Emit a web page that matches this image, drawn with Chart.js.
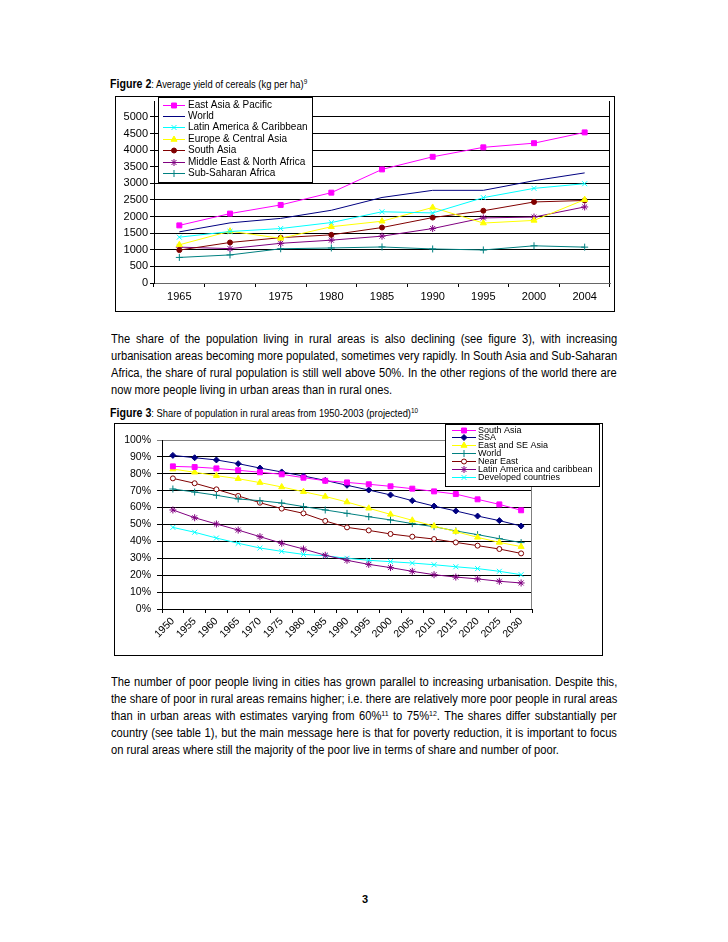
<!DOCTYPE html>
<html lang="en">
<head>
<meta charset="UTF-8" />
<title>Cereal yields and rural population share</title>
<script src="https://cdn.jsdelivr.net/npm/chart.js"></script>
<style>
  body {
    margin: 0;
    background: #fff;
    width: 728px;
    height: 942px;
    position: relative;
    overflow: hidden;
    font-family: "Liberation Sans", Arial, sans-serif;
    color: #000;
  }
  .cap { position: absolute; left: 110px; font-size: 11px; line-height: 14px; white-space: nowrap; transform-origin: left top; }
  .cap b { font-size: 12.5px; }
  sup { font-size: 7.5px; vertical-align: 4px; line-height: 0; }
  .box { position: absolute; border: 1px solid #000; box-sizing: border-box; pointer-events: none; }
  canvas { position: absolute; }
  .txt { position: absolute; left: 111px; font-size: 12px; line-height: 17px; transform-origin: left top; }
  .txt span { display: block; white-space: nowrap; }
  .pg { position: absolute; left: 362px; top: 893px; font: bold 11px Arial, sans-serif; }
</style>
</head>
<body>

<div class="cap" id="cap2" style="top:77px"><b>Figure 2</b>: Average yield of cereals (kg per ha)<sup>9</sup></div>
<canvas id="yieldChart" width="500" height="216" style="left:115px; top:96px"></canvas>
<div class="box" style="left:115px; top:96px; width:500px; height:216px"></div>

<div class="txt" style="top:331px">
  <span class="j">The share of the population living in rural areas is also declining (see figure 3), with increasing</span>
  <span class="j">urbanisation areas becoming more populated, sometimes very rapidly. In South Asia and Sub-Saharan</span>
  <span class="j">Africa, the share of rural population is still well above 50%. In the other regions of the world there are</span>
  <span>now more people living in urban areas than in rural ones.</span>
</div>

<div class="cap" id="cap3" style="top:406px"><b>Figure 3</b>: Share of population in rural areas from 1950-2003 (projected)<sup>10</sup></div>
<canvas id="ruralChart" width="489" height="233" style="left:114px; top:423px"></canvas>
<div class="box" style="left:114px; top:423px; width:489px; height:233px"></div>

<div class="txt" style="top:674px">
  <span class="j">The number of poor people living in cities has grown parallel to increasing urbanisation. Despite this,</span>
  <span class="j">the share of poor in rural areas remains higher; i.e. there are relatively more poor people in rural areas</span>
  <span class="j">than in urban areas with estimates varying from 60%<sup>11</sup> to 75%<sup>12</sup>. The shares differ substantially per</span>
  <span class="j">country (see table 1), but the main message here is that for poverty reduction, it is important to focus</span>
  <span>on rural areas where still the majority of the poor live in terms of share and number of poor.</span>
</div>

<div class="pg">3</div>

<script>
  // Figure 2 - cereal yield, kg per ha
  const years2 = ['1965', '1970', '1975', '1980', '1985', '1990', '1995', '2000', '2004'];
  const yieldTicks = [0, 500, 1000, 1500, 2000, 2500, 3000, 3500, 4000, 4500, 5000];
  const eastAsiaPacific = [1735, 2090, 2350, 2720, 3420, 3800, 4085, 4210, 4535];
  const world = [1540, 1810, 1945, 2190, 2575, 2790, 2790, 3080, 3315];
  const latinAmerica = [1380, 1550, 1640, 1820, 2145, 2110, 2570, 2850, 2990];
  const europeCentralAsia = [1150, 1560, 1345, 1695, 1860, 2275, 1805, 1885, 2510];
  const southAsia = [990, 1220, 1365, 1450, 1670, 1970, 2175, 2440, 2485];
  const middleEast = [1080, 1035, 1195, 1290, 1410, 1640, 1960, 1985, 2290];
  const subSaharan = [770, 845, 1030, 1055, 1085, 1025, 995, 1120, 1080];

  // Figure 3 - rural share of population, %
  const years3 = ['1950', '1955', '1960', '1965', '1970', '1975', '1980', '1985', '1990',
                  '1995', '2000', '2005', '2010', '2015', '2020', '2025', '2030'];
  const ruralTicks = [0, 10, 20, 30, 40, 50, 60, 70, 80, 90, 100];
  const southAsiaRural = [84.4, 84.0, 83.2, 82.1, 80.9, 79.7, 77.7, 75.9, 74.9, 73.8, 72.6, 71.2, 69.6, 68.0, 64.9, 61.9, 58.4];
  const ssaRural = [90.9, 89.5, 88.2, 86.0, 83.4, 81.1, 78.7, 76.1, 73.2, 70.4, 67.5, 64.1, 60.9, 58.0, 55.0, 52.3, 49.1];
  const eastSEAsiaRural = [82.8, 80.9, 78.9, 77.1, 74.8, 72.2, 69.4, 66.6, 63.3, 59.6, 56.0, 52.5, 49.1, 45.8, 42.4, 39.4, 36.9];
  const worldRural = [71.0, 69.2, 67.3, 65.1, 64.1, 62.7, 60.6, 58.6, 56.6, 54.6, 52.7, 50.5, 48.7, 46.2, 44.0, 41.6, 39.3];
  const nearEastRural = [77.3, 74.4, 70.8, 66.9, 62.9, 59.4, 56.6, 52.1, 48.3, 46.5, 44.4, 42.8, 41.4, 39.4, 37.5, 35.5, 32.9];
  const latinAmericaRural = [58.6, 54.0, 50.3, 46.7, 42.8, 38.9, 35.5, 31.8, 28.8, 26.4, 24.5, 22.3, 20.3, 18.9, 17.8, 16.4, 15.4];
  const developedRural = [48.3, 45.4, 42.0, 38.9, 36.1, 34.1, 32.3, 31.5, 30.0, 28.8, 28.0, 27.2, 26.2, 25.0, 23.9, 22.3, 20.3];

  // the original uses a condensed face: squeeze Arial horizontally so the
  // widest line fits 506px, then justify each full line
  const TEXT_W = 506;
  const spans = [...document.querySelectorAll('.txt span.j')];
  spans.forEach(s => { s.style.display = 'inline-block'; });
  const widest = Math.max(...spans.map(s => s.offsetWidth));
  const squeeze = TEXT_W / widest;
  const inner = TEXT_W / squeeze;
  spans.forEach(s => {
    const w = s.offsetWidth;
    const gaps = (s.textContent.match(/ /g) || []).length;
    s.style.wordSpacing = ((inner - w) / gaps) + 'px';
    s.style.display = 'block';
  });
  document.querySelectorAll('.txt').forEach(t => {
    t.style.width = inner + 'px';
    t.style.transform = 'scaleX(' + squeeze + ')';
  });

  // captions: figure 3 caption is ~308px wide in the original
  const capSqueeze = 308 / document.getElementById('cap3').offsetWidth;
  document.querySelectorAll('.cap').forEach(c => { c.style.transform = 'scaleX(' + capSqueeze + ')'; });

  const line = (label, data, color, style, radius, fill) => ({
    label, data,
    borderColor: color,
    backgroundColor: color,
    pointBackgroundColor: fill || color,
    pointBorderColor: color,
    pointStyle: style,
    pointRadius: radius,
    pointBorderWidth: 1,
    borderWidth: 1,
    tension: 0
  });

  // excel-like legend box drawn on top of the plot
  const boxLegend = {
    id: 'boxLegend',
    afterDraw(chart, args, o) {
      const ctx = chart.ctx;
      ctx.save();
      ctx.fillStyle = '#fff';
      ctx.fillRect(o.x, o.y, o.w, o.h);
      ctx.strokeStyle = '#000';
      ctx.lineWidth = 1;
      ctx.strokeRect(o.x + 0.5, o.y + 0.5, o.w, o.h);
      ctx.font = o.font;
      ctx.textBaseline = 'middle';
      chart.data.datasets.forEach((ds, i) => {
        const y = Math.round(o.y + o.first + i * o.step) + 0.5;
        ctx.strokeStyle = ds.borderColor;
        ctx.beginPath();
        ctx.moveTo(o.x1, y);
        ctx.lineTo(o.x2, y);
        ctx.stroke();
        if (ds.pointRadius) {
          ctx.fillStyle = ds.pointBackgroundColor;
          ctx.strokeStyle = ds.borderColor;
          ctx.lineWidth = 1;
          Chart.helpers.drawPoint(ctx, { pointStyle: ds.pointStyle, radius: ds.pointRadius, borderWidth: 1, rotation: 0 }, (o.x1 + o.x2) / 2, y);
        }
        ctx.fillStyle = '#000';
        ctx.fillText(ds.label, o.tx, y);
      });
      ctx.restore();
    }
  };

  // right edge of the plot area
  const frame = {
    id: 'frame',
    beforeDatasetsDraw(chart, args, o) {
      const a = chart.chartArea, ctx = chart.ctx;
      ctx.save();
      ctx.strokeStyle = o.color;
      ctx.lineWidth = 1;
      ctx.beginPath();
      ctx.moveTo(Math.round(a.right) - 0.5, a.top);
      ctx.lineTo(Math.round(a.right) - 0.5, a.bottom);
      ctx.stroke();
      ctx.restore();
    }
  };

  const fontFamily = '"Liberation Sans", Arial, sans-serif';

  new Chart(document.getElementById('yieldChart'), {
    type: 'line',
    data: {
      labels: years2,
      datasets: [
        line('East Asia & Pacific', eastAsiaPacific, '#FF00FF', 'rect', 3.5),
        line('World', world, '#000080', 'circle', 0),
        line('Latin America & Caribbean', latinAmerica, '#00FFFF', 'crossRot', 3.5),
        line('Europe & Central Asia', europeCentralAsia, '#FFFF00', 'triangle', 3.5),
        line('South Asia', southAsia, '#800000', 'circle', 2.5),
        line('Middle East & North Africa', middleEast, '#800080', 'star', 3.5),
        line('Sub-Saharan Africa', subSaharan, '#008080', 'cross', 3.5)
      ]
    },
    options: {
      responsive: false,
      animation: false,
      layout: { padding: { left: 0, right: 5, top: 0, bottom: 0 } },
      plugins: {
        legend: { display: false },
        tooltip: { enabled: false },
        frame: { color: '#000' },
        boxLegend: { x: 43, y: 1, w: 154, h: 85, first: 7.5, step: 11.4, x1: 48, x2: 70, tx: 73,
                     font: '10px ' + fontFamily }
      },
      scales: {
        x: {
          offset: true,
          grid: { offset: true, drawOnChartArea: false, color: '#000', tickLength: 4 },
          border: { color: '#666' },
          ticks: { color: '#000', font: { family: fontFamily, size: 11 }, padding: 3, maxRotation: 0 },
          afterFit: s => { s.height = 29; s.paddingLeft = 0; s.paddingRight = 0; }
        },
        y: {
          min: 0,
          max: 5480,
          ticks: { color: '#000', font: { family: fontFamily, size: 11 }, padding: 2, callback: v => String(v) },
          grid: { color: '#000', tickLength: 4 },
          border: { color: '#000' },
          afterBuildTicks: s => { s.ticks = yieldTicks.map(v => ({ value: v })); },
          afterFit: s => { s.width = 39; s.paddingTop = 0; s.paddingBottom = 0; }
        }
      }
    },
    plugins: [frame, boxLegend]
  });

  new Chart(document.getElementById('ruralChart'), {
    type: 'line',
    data: {
      labels: years3,
      datasets: [
        line('South Asia', southAsiaRural, '#FF00FF', 'rect', 3.5),
        line('SSA', ssaRural, '#000080', 'rectRot', 3),
        line('East and SE Asia', eastSEAsiaRural, '#FFFF00', 'triangle', 3.5),
        line('World', worldRural, '#008080', 'cross', 3.5),
        line('Near East', nearEastRural, '#800000', 'circle', 2.5, '#fff'),
        line('Latin America and caribbean', latinAmericaRural, '#800080', 'star', 3.5),
        line('Developed countries', developedRural, '#00FFFF', 'crossRot', 3.5)
      ]
    },
    options: {
      responsive: false,
      animation: false,
      layout: { padding: { left: 0, right: 71, top: 17, bottom: 0 } },
      plugins: {
        legend: { display: false },
        tooltip: { enabled: false },
        frame: { color: '#808080' },
        boxLegend: { x: 331, y: 1, w: 154, h: 62, first: 5.5, step: 7.9, x1: 338, x2: 362, tx: 364,
                     font: '9px ' + fontFamily }
      },
      scales: {
        x: {
          offset: true,
          grid: { offset: true, drawOnChartArea: false, color: '#000', tickLength: 4 },
          border: { color: '#000' },
          ticks: { color: '#000', font: { family: fontFamily, size: 10.5 }, padding: 2, minRotation: 45, maxRotation: 45, autoSkip: false },
          afterFit: s => { s.height = 47; s.paddingLeft = 0; s.paddingRight = 0; }
        },
        y: {
          min: 0,
          max: 100,
          ticks: { color: '#000', font: { family: fontFamily, size: 10.5 }, padding: 6, callback: v => v + '%' },
          grid: { color: c => c.tick.value === 100 ? '#808080' : '#000', tickLength: 5 },
          border: { color: '#000' },
          afterBuildTicks: s => { s.ticks = ruralTicks.map(v => ({ value: v })); },
          afterFit: s => { s.width = 48; s.paddingTop = 0; s.paddingBottom = 0; }
        }
      }
    },
    plugins: [frame, boxLegend]
  });
</script>
</body>
</html>
